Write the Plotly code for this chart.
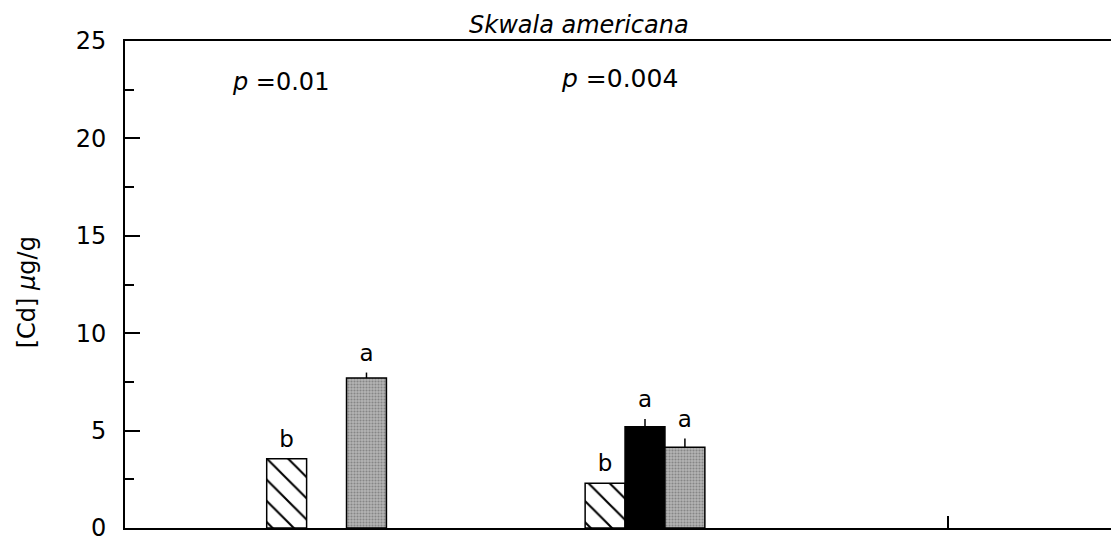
import plotly.graph_objects as go

# ---- data ----
groups = [0, 1]
hatched_vals = [3.55, 2.3]
black_vals = [None, 5.2]
gray_vals = [7.7, 4.15]
black_err = [0, 0.4]
gray_err = [0.28, 0.45]
hatched_letters = ["b", "b"]
black_letters = ["", "a"]
gray_letters = ["a", "a"]
p_texts = ["<i>p</i> =0.01", "<i>p</i> =0.004"]
y_ticks = [0, 5, 10, 15, 20, 25]
title_text = "<i>Skwala americana</i>"
y_title = "[Cd] <i>μ</i>g/g"

FONT = "DejaVu Sans, Liberation Sans, sans-serif"

fig = go.Figure()

line = dict(color="black", width=1.5)

fig.add_trace(go.Bar(
    x=groups, y=hatched_vals, offsetgroup="h", name="h",
    marker=dict(color="white", line=line,
                pattern=dict(shape="\\", size=15, solidity=0.14,
                             fgcolor="black", bgcolor="white", fgopacity=1)),
))
fig.add_trace(go.Bar(
    x=groups, y=black_vals, offsetgroup="k", name="k",
    marker=dict(color="black", line=line),
    error_y=dict(type="data", array=black_err, arrayminus=[0, 0], symmetric=False,
                 width=0, thickness=1.5, color="black"),
))
fig.add_trace(go.Bar(
    x=groups, y=gray_vals, offsetgroup="g", name="g",
    marker=dict(color="#9c9c9c", line=line,
                pattern=dict(shape=".", size=3, solidity=0.4,
                             fgcolor="#575757", bgcolor="#b4b4b4")),
    error_y=dict(type="data", array=gray_err, arrayminus=[0, 0], symmetric=False,
                 width=0, thickness=1.5, color="black"),
))

# letters above bars
def tops(vals, errs):
    return [None if v is None else v + e for v, e in zip(vals, errs)]

for vals, errs, letters, og in [
    (hatched_vals, [0, 0], hatched_letters, "h"),
    (black_vals, black_err, black_letters, "k"),
    (gray_vals, gray_err, gray_letters, "g"),
]:
    fig.add_trace(go.Scatter(
        x=groups, y=tops(vals, errs), offsetgroup=og, mode="markers+text",
        marker=dict(size=8, color="rgba(0,0,0,0)"),
        text=letters, textposition="top center",
        textfont=dict(family=FONT, size=23, color="black"),
        cliponaxis=False, hoverinfo="skip",
    ))

# p-value annotations
fig.add_annotation(x=-0.144, y=22.9, xref="x", yref="y", text=p_texts[0],
                   showarrow=False, font=dict(family=FONT, size=24, color="black"))
fig.add_annotation(x=0.92, y=23.1, xref="x", yref="y", text=p_texts[1],
                   showarrow=False, font=dict(family=FONT, size=25, color="black"))
# title
fig.add_annotation(x=0.793, y=1, xref="x", yref="paper", yanchor="bottom",
                   text=title_text, showarrow=False, yshift=0,
                   font=dict(family=FONT, size=24, color="black"))
# y-axis title
fig.add_annotation(x=0, xref="paper", xshift=-98, y=12.1, yref="y",
                   xanchor="center", yanchor="middle", textangle=-90,
                   text=y_title, showarrow=False,
                   font=dict(family=FONT, size=24, color="black"))

fig.update_layout(
    width=1119, height=544, autosize=False,
    margin=dict(l=117, r=10, t=33, b=24),
    plot_bgcolor="white", paper_bgcolor="white",
    barmode="group", bargap=0.624, bargroupgap=0,
    scattermode="group", scattergap=0.624,
    showlegend=False,
    font=dict(family=FONT, size=24, color="black"),
)
fig.update_xaxes(
    range=[-0.633, 2.476], showgrid=False, zeroline=False,
    showline=True, linecolor="black", linewidth=2, mirror=True,
    tickvals=[1.95], ticks="inside", ticklen=12, tickwidth=1.5, tickcolor="black",
    showticklabels=False,
)
fig.update_yaxes(
    range=[0, 25], showgrid=False, zeroline=False,
    showline=True, linecolor="black", linewidth=2, mirror=True,
    tickvals=y_ticks, ticks="inside", ticklen=15, tickwidth=1.5, tickcolor="black",
    ticklabelstandoff=12,
    minor=dict(dtick=2.5, ticks="inside", ticklen=9, tickwidth=1.5, tickcolor="black"),
    tickfont=dict(family=FONT, size=24, color="black"),
)

fig.write_html("out.html", config={"responsive": False})
